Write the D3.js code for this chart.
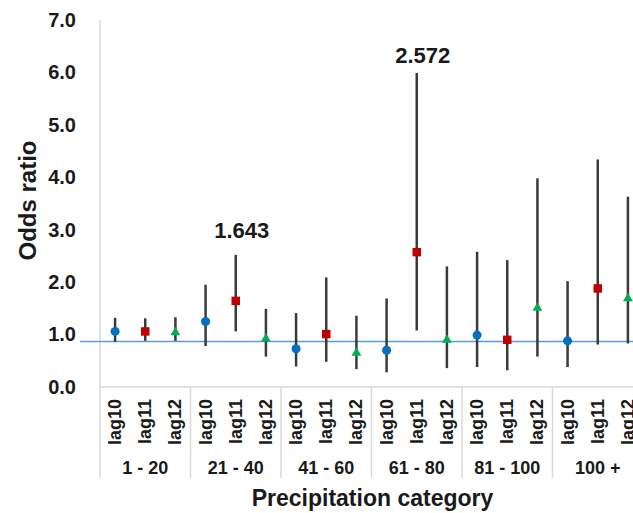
<!DOCTYPE html>
<html>
<head>
<meta charset="utf-8">
<script src="https://cdn.jsdelivr.net/npm/d3@7"></script>
<style>
  body { margin: 0; background: #fff; }
  text { font-family: "Liberation Sans", Arial, sans-serif; font-weight: bold; fill: #1a1a1a; }
</style>
</head>
<body>
<div id="chart"></div>
<script>
// DATA
var groups = ['1 - 20', '21 - 40', '41 - 60', '61 - 80', '81 - 100', '100 +'];
var lags = ['lag10', 'lag11', 'lag12'];
// odds ratio, lower and upper CI, in order group by group, lag10..lag12
var oddsRatio = [1.06, 1.06, 1.04, 1.25, 1.643, 0.92, 0.73, 1.01, 0.65, 0.70, 2.572, 0.90, 0.99, 0.90, 1.51, 0.88, 1.88, 1.69];
var lower     = [0.86, 0.88, 0.88, 0.78, 1.06, 0.58, 0.39, 0.48, 0.34, 0.28, 1.08, 0.36, 0.38, 0.32, 0.58, 0.38, 0.81, 0.83];
var upper     = [1.32, 1.31, 1.33, 1.95, 2.52, 1.49, 1.41, 2.09, 1.36, 1.69, 5.99, 2.30, 2.58, 2.42, 3.98, 2.02, 4.34, 3.63];
var yTicks = [0, 1, 2, 3, 4, 5, 6, 7];
var refValue = 0.87;
var annotations = [{idx: 4, text: '1.643', dy: -17}, {idx: 10, text: '2.572', dy: -10}];

var colors = {lag10: '#0070C0', lag11: '#C00000', lag12: '#00B050'};

// BOUNDS
var width = 633, height = 513;
var pLeft = 100, pRight = 643, pTop = 20, pBottom = 387, sepBottom = 478;

var svg = d3.select('#chart').append('svg')
  .attr('width', width).attr('height', height);

// build rows
var rows = [];
groups.forEach(function(g, gi) {
  lags.forEach(function(l, li) {
    var i = gi * 3 + li;
    rows.push({key: g + '|' + l, group: g, lag: l, or: oddsRatio[i], lo: lower[i], hi: upper[i]});
  });
});

// SCALE
var x = d3.scaleBand().domain(rows.map(function(d) { return d.key; })).range([pLeft, pRight]);
var xg = d3.scaleBand().domain(groups).range([pLeft, pRight]);
var y = d3.scaleLinear().domain([0, 7]).range([pBottom, pTop]);
function cx(d) { return x(d.key) + x.bandwidth() / 2; }

// axis lines (gray)
svg.append('line')
  .attr('x1', pLeft).attr('x2', pLeft)
  .attr('y1', y(7)).attr('y2', sepBottom)
  .attr('stroke', '#d9d9d9').attr('stroke-width', 1.5);
svg.append('line')
  .attr('x1', pLeft).attr('x2', width)
  .attr('y1', y(0)).attr('y2', y(0))
  .attr('stroke', '#d9d9d9').attr('stroke-width', 1.5);

// group separators
svg.selectAll('.sep').data(groups.slice(1)).enter().append('line')
  .attr('class', 'sep')
  .attr('x1', function(d) { return xg(d); }).attr('x2', function(d) { return xg(d); })
  .attr('y1', y(0)).attr('y2', sepBottom)
  .attr('stroke', '#d9d9d9').attr('stroke-width', 1.5);

// Y axis
var yAxis = d3.axisLeft(y).tickValues(yTicks).tickFormat(d3.format('.1f')).tickSize(0).tickPadding(24);
var yg = svg.append('g').attr('transform', 'translate(' + pLeft + ',0)').call(yAxis);
yg.select('.domain').remove();
yg.selectAll('text').style('font-size', '20px').attr('fill', '#1a1a1a')
  .style('font-family', '"Liberation Sans", Arial, sans-serif').style('font-weight', 'bold');

// reference line
svg.append('line')
  .attr('x1', 80).attr('x2', width)
  .attr('y1', y(refValue)).attr('y2', y(refValue))
  .attr('stroke', '#5B9BD5').attr('stroke-width', 1.5);

// whiskers
svg.selectAll('.ci').data(rows).enter().append('line')
  .attr('class', 'ci')
  .attr('x1', cx).attr('x2', cx)
  .attr('y1', function(d) { return y(d.lo); })
  .attr('y2', function(d) { return y(d.hi); })
  .attr('stroke', '#3a3a3a').attr('stroke-width', 2.5);

// markers
var symbols = {lag10: d3.symbolCircle, lag11: d3.symbolSquare, lag12: d3.symbolTriangle};
var sizes = {lag10: 64, lag11: 72, lag12: 42};
svg.selectAll('.pt').data(rows).enter().append('path')
  .attr('class', 'pt')
  .attr('d', function(d) { return d3.symbol().type(symbols[d.lag]).size(sizes[d.lag])(); })
  .attr('transform', function(d) { return 'translate(' + cx(d) + ',' + y(d.or) + ')'; })
  .attr('fill', function(d) { return colors[d.lag]; });

// annotations
svg.selectAll('.ann').data(annotations).enter().append('text')
  .attr('class', 'ann')
  .attr('x', function(d) { return cx(rows[d.idx]) + 6; })
  .attr('y', function(d) { return y(rows[d.idx].hi) + d.dy; })
  .attr('text-anchor', 'middle')
  .style('font-size', '22px')
  .text(function(d) { return d.text; });

// lag labels (rotated)
svg.selectAll('.lag').data(rows).enter().append('text')
  .attr('class', 'lag')
  .attr('transform', function(d) {
    return 'translate(' + (cx(d) + 6) + ',' + (y(0) + 12) + ') rotate(-90)';
  })
  .attr('text-anchor', 'end')
  .style('font-size', '18px')
  .text(function(d) { return d.lag; });

// group labels
svg.selectAll('.grp').data(groups).enter().append('text')
  .attr('class', 'grp')
  .attr('x', function(d) { return xg(d) + xg.bandwidth() / 2; })
  .attr('y', 474)
  .attr('text-anchor', 'middle')
  .style('font-size', '18px')
  .text(function(d) { return d; });

// axis titles
svg.append('text')
  .attr('x', (pLeft + pRight) / 2 + 1).attr('y', 506)
  .attr('text-anchor', 'middle')
  .style('font-size', '23px')
  .text('Precipitation category');

svg.append('text')
  .attr('transform', 'translate(36,' + ((pTop + pBottom) / 2 - 3) + ') rotate(-90)')
  .attr('text-anchor', 'middle')
  .style('font-size', '24px')
  .text('Odds ratio');
</script>
</body>
</html>
